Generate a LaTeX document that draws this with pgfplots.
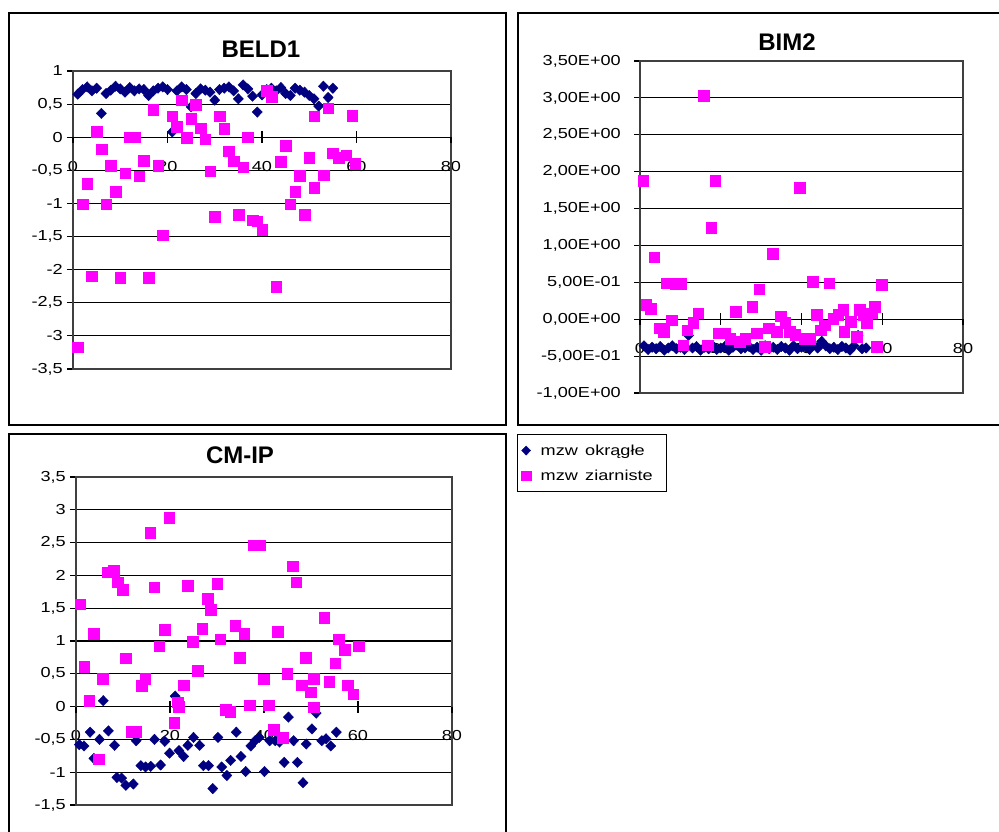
\documentclass[border=0pt]{standalone}
\usepackage{fontspec}
\setmainfont{Liberation Sans}
\newfontfamily\tickfont{Liberation Sans}[FakeStretch=1.25]
\usepackage{pgfplots}
\pgfplotsset{compat=1.18}
\definecolor{navyx}{RGB}{0,0,128}
\definecolor{magx}{RGB}{255,0,255}

\pgfplotsset{
  excelpanel/.style={
    scale only axis, anchor=south west, clip=false,
    xmin=0, xmax=80, xtick={0,20,40,60,80}, xticklabels={0,20,40,60,80},
    axis x line*=middle, axis y line*=left,
    hide obscured x ticks=false, hide obscured y ticks=false,
    axis line style={-, black, line width=1.1pt},
    ymajorgrids, grid style={black, line width=1.1pt},
    major tick style={black, line width=1.1pt},
    major tick length=6pt, ytick align=outside,
    ticklabel style={font=\tickfont\fontsize{14.5}{16}\selectfont, inner sep=0pt},
    xticklabel style={anchor=north, yshift=-21pt},
    xticklabel shift=3pt,
    yticklabel style={anchor=east, xshift=-4pt},
  },
  dia/.style={only marks, mark=diamond*, mark size=5.2pt,
    mark options={fill=navyx, draw=navyx, xscale=1.3, line width=0.4pt}},
  sq/.style={only marks, mark=square*, mark size=5.3pt,
    mark options={fill=magx, draw=magx, line width=0.3pt}},
}
% frame of the plot area and downward tick marks on the x axis at y=0
\newcommand\panelframe{%
  \draw[black!75, line width=1.1pt] (rel axis cs:0,0) rectangle (rel axis cs:1,1);
  \pgfplotsinvokeforeach{0,20,40,60,80}{%
    \draw[black, line width=1.1pt] (axis cs:##1,0) -- ++(0pt,-6pt);}%
}

\begin{document}
\begin{tikzpicture}
\path[use as bounding box] (0pt,0pt) rectangle (999pt,-832pt);

% chart frames
\draw[black, line width=1.3pt] (9pt,-13pt) rectangle (506pt,-425pt);
\draw[black, line width=1.3pt] (518pt,-13pt) rectangle (1010pt,-425pt);
\draw[black, line width=1.3pt] (9pt,-434pt) rectangle (506pt,-845pt);

% titles
\node[font=\bfseries\fontsize{24}{28}\selectfont] at (261pt,-49pt) {BELD1};
\node[font=\bfseries\fontsize{24}{28}\selectfont] at (787pt,-42pt) {BIM2};
\node[font=\bfseries\fontsize{24}{28}\selectfont] at (240pt,-455pt) {CM-IP};

% ---------------- BELD1 ----------------
\begin{axis}[excelpanel,
  at={(73pt,-369pt)}, width=378pt, height=298pt,
  ymin=-3.5, ymax=1,
  ytick={-3.5,-3,-2.5,-2,-1.5,-1,-0.5,0,0.5,1},
  yticklabels={{-3,5},{-3},{-2,5},{-2},{-1,5},{-1},{-0,5},{0},{0,5},{1}},
]
\panelframe
\addplot[dia] coordinates {
 (1,0.65) (2,0.72) (3,0.76) (4,0.70) (5,0.74) (6,0.36) (7,0.66) (8,0.71)
 (9,0.77) (10,0.73) (11,0.68) (12,0.75) (13,0.70) (14,0.73) (15,0.72)
 (16,0.63) (17,0.70) (18,0.74) (19,0.76) (20,0.72) (21,0.08) (22,0.70)
 (23,0.76) (24,0.72) (25,0.46) (26,0.66) (27,0.73) (28,0.71) (29,0.68)
 (30,0.56) (31,0.72) (32,0.74) (33,0.76) (34,0.70) (35,0.58) (36,0.79)
 (37,0.73) (38,0.62) (39,0.38) (40,0.64) (41,0.72) (42,0.74) (43,0.70)
 (44,0.75) (45,0.66) (46,0.63) (47,0.74) (48,0.71) (49,0.68) (50,0.63)
 (51,0.58) (52,0.47) (53,0.77) (54,0.60) (55,0.74)
};
\addplot[sq] coordinates {
 (1,-3.17) (2,-1.01) (3,-0.70) (4,-2.10) (5,0.08) (6,-0.18) (7,-1.01)
 (8,-0.43) (9,-0.82) (10,-2.12) (11,-0.54) (12,0.00) (13,0.00) (14,-0.59)
 (15,-0.35) (16,-2.12) (17,0.42) (18,-0.43) (19,-1.48) (21,0.32) (22,0.16)
 (23,0.56) (24,-0.01) (25,0.28) (26,0.49) (27,0.14) (28,-0.03) (29,-0.51)
 (30,-1.20) (31,0.32) (32,0.13) (33,-0.21) (34,-0.36) (35,-1.17) (36,-0.45)
 (37,0.00) (38,-1.25) (39,-1.27) (40,-1.40) (41,0.70) (42,0.61) (43,-2.26)
 (44,-0.37) (45,-0.13) (46,-1.01) (47,-0.82) (48,-0.58) (49,-1.17)
 (50,-0.31) (51,0.32) (51,-0.76) (53,-0.57) (54,0.44) (55,-0.24)
 (56.2,-0.31) (57.8,-0.27) (59.1,0.33) (59.7,-0.40)
};
\end{axis}

% ---------------- BIM2 ----------------
\begin{axis}[excelpanel,
  at={(640pt,-393pt)}, width=323pt, height=332pt,
  ymin=-1, ymax=3.5,
  ytick={-1,-0.5,0,0.5,1,1.5,2,2.5,3,3.5},
  yticklabels={{-1,00E+00},{-5,00E-01},{0,00E+00},{5,00E-01},{1,00E+00},
               {1,50E+00},{2,00E+00},{2,50E+00},{3,00E+00},{3,50E+00}},
  yticklabel style={xshift=-9pt},
]
\panelframe
\addplot[dia] coordinates {
 (1,-0.36) (2,-0.41) (3,-0.38) (4,-0.40) (5,-0.37) (6,-0.42) (7,-0.39)
 (8,-0.36) (9,-0.40) (10,-0.38) (11,-0.41) (12,-0.22) (13,-0.39) (14,-0.37)
 (15,-0.42) (16,-0.38) (17,-0.40) (18,-0.36) (19,-0.41) (20,-0.39)
 (21,-0.37) (22,-0.42) (23,-0.38) (24,-0.35) (25,-0.40) (26,-0.39)
 (27,-0.37) (28,-0.41) (29,-0.38) (30,-0.42) (31,-0.36) (32,-0.40)
 (33,-0.38) (34,-0.41) (35,-0.37) (36,-0.39) (37,-0.42) (38,-0.36)
 (39,-0.40) (40,-0.38) (41,-0.37) (42,-0.41) (43,-0.35) (44,-0.39)
 (45,-0.30) (46,-0.36) (47,-0.40) (48,-0.38) (49,-0.41) (50,-0.37)
 (51,-0.39) (52,-0.42) (53,-0.36) (54,-0.22) (55,-0.40) (56,-0.39)
};
\addplot[sq] coordinates {
 (0.8,1.88) (1.5,0.195) (2.6,0.14) (3.5,0.84) (4.9,-0.12) (5.9,-0.17)
 (6.6,0.49) (7.8,-0.01) (8.8,0.48) (10.1,0.48) (10.7,-0.35) (11.7,-0.15)
 (13.2,-0.05) (14.4,0.08) (15.7,3.03) (16.7,-0.35) (17.6,1.24) (18.6,1.88)
 (19.4,-0.19) (21,-0.19) (22.3,-0.26) (23.7,0.10) (24.7,-0.30) (26,-0.26)
 (27.8,0.17) (28.9,-0.19) (29.5,0.41) (30.9,-0.37) (31.8,-0.12) (32.8,0.89)
 (33.8,-0.17) (34.8,0.04) (35.9,-0.05) (37.1,-0.17) (38.4,-0.21) (39.6,1.78)
 (40.8,-0.26) (42.1,-0.26) (42.7,0.51) (43.7,0.06) (44.7,-0.15) (45.8,-0.08)
 (46.8,0.49) (47.8,0.01) (49.1,0.06) (50.3,0.13) (50.6,-0.17) (52.1,-0.03)
 (53.6,-0.24) (54.4,0.13) (55.4,0.06) (56.1,-0.05) (57.3,0.08) (58.1,0.17)
 (58.6,-0.37) (59.8,0.47)
};
\end{axis}

% ---------------- CM-IP ----------------
\begin{axis}[excelpanel,
  at={(76pt,-805pt)}, width=376pt, height=328pt,
  ymin=-1.5, ymax=3.5,
  ytick={-1.5,-1,-0.5,0,0.5,1,1.5,2,2.5,3,3.5},
  yticklabels={{-1,5},{-1},{-0,5},{0},{0,5},{1},{1,5},{2},{2,5},{3},{3,5}},
  legend style={at={(axis description cs:1.173,1.131)}, anchor=north west,
    draw=black, line width=1pt, fill=white, inner xsep=4pt, inner ysep=8pt,
    font=\tickfont\fontsize{14.5}{17}\selectfont, cells={anchor=west},
    row sep=9pt, /tikz/every odd column/.append style={column sep=8pt}},
  legend image code/.code={\draw[#1, mark size=4.6pt] plot coordinates {(0pt,0pt)};},
]
\panelframe
\addplot[dia] coordinates {
 (0.7,-0.58) (1.7,-0.60) (3,-0.39) (3.8,-0.79) (5,-0.50) (5.8,0.09)
 (6.9,-0.37) (8.2,-0.59) (8.7,-1.08) (9.7,-1.09) (10.6,-1.20) (12.2,-1.18)
 (12.8,-0.52) (13.8,-0.90) (14.8,-0.92) (15.9,-0.91) (16.7,-0.50) (18,-0.89)
 (18.9,-0.53) (19.9,-0.71) (21.1,0.16) (21.9,-0.67) (22.9,-0.76) (23.8,-0.59)
 (25,-0.47) (26.3,-0.59) (27.1,-0.90) (28.2,-0.90) (29.1,-1.25) (30.2,-0.47)
 (31,-0.92) (32.1,-1.05) (32.9,-0.82) (34.1,-0.39) (35.1,-0.76) (36.1,-0.99)
 (37.2,-0.60) (38.1,-0.52) (39,-0.47) (40.1,-0.99) (41.2,-0.52) (42.4,-0.52)
 (43.3,-0.54) (44.3,-0.85) (45.2,-0.16) (46.3,-0.52) (47.1,-0.85) (48.3,-1.16)
 (49,-0.57) (50.2,-0.34) (51.1,-0.10) (52.3,-0.52) (53.2,-0.49) (54.2,-0.60)
 (55.4,-0.39)
};
\addlegendentry{mzw\hspace{0.5em}okrągłe}
\addplot[sq] coordinates {
 (0.85,1.56) (1.7,0.61) (2.8,0.09) (3.7,1.11) (4.8,-0.80) (5.7,0.43)
 (6.7,2.05) (8,2.07) (8.8,1.90) (9.9,1.78) (10.6,0.74) (11.9,-0.38)
 (12.8,-0.38) (14,0.32) (14.7,0.43) (15.8,2.65) (16.6,1.82) (17.7,0.92)
 (18.9,1.17) (19.8,2.88) (20.9,-0.24) (21.6,0.07) (21.9,0.00) (22.9,0.33)
 (23.8,1.84) (24.8,0.99) (25.9,0.55) (26.8,1.19) (28,1.65) (28.7,1.48)
 (30,1.87) (30.7,1.03) (31.9,-0.05) (32.8,-0.08) (33.9,1.23) (34.8,0.75)
 (35.8,1.11) (36.9,0.02) (37.8,2.46) (39.2,2.46) (39.9,0.42) (41,0.02)
 (42,-0.35) (42.9,1.14) (44,-0.47) (44.9,0.50) (46.1,2.14) (46.8,1.90)
 (48,0.33) (48.8,0.75) (49.9,0.22) (50.6,0.43) (50.6,-0.01) (52.8,1.36)
 (53.9,0.38) (55.1,0.66) (55.9,1.03) (57.1,0.87) (57.8,0.33) (59,0.19)
 (60.1,0.92)
};
\addlegendentry{mzw\hspace{0.5em}ziarniste\kern8pt}
\end{axis}
\end{tikzpicture}
\end{document}
